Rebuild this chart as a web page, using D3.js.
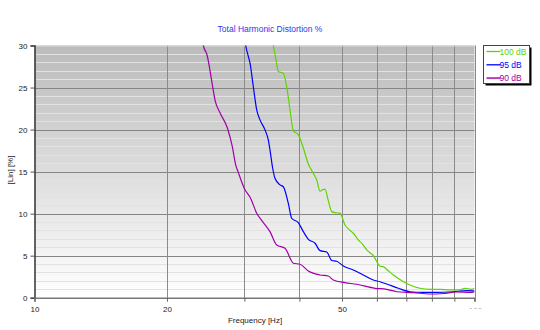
<!DOCTYPE html>
<html><head><meta charset="utf-8">
<script src="https://cdn.jsdelivr.net/npm/d3@7"></script>
<style>body{margin:0;background:#fff}svg{display:block}text{font-family:"Liberation Sans",Arial,sans-serif}</style>
</head><body>
<svg id="c" width="540" height="330"></svg>
<script>
const title = "Total Harmonic Distortion %";
const xLabel = "Frequency [Hz]";
const yLabel = "[Lin] [%]";
const seriesNames = ["100 dB", "95 dB", "90 dB"];
const seriesColors = ["#5fd400", "#0000ff", "#a000a8"];
const xGridValues = [10, 20, 30, 40, 50, 60, 70, 80, 90, 100];
const xTickLabels = [10, 20, 50, 100];
const yTickValues = [0, 5, 10, 15, 20, 25, 30];

const s100 = [[34.6,31],[34.89,30],[35.39,28.3],[35.82,26.9],[36.77,26.7],[37.43,25.08],[38.08,22.35],[38.75,19.85],[39.77,19.4],[40.83,17.8],[41.91,15.9],[43.02,14.8],[43.8,14.0],[44.56,12.67],[45.2,12.85],[45.74,12.92],[46.5,11.6],[47.38,10.24],[48.4,10.1],[49.47,10.05],[50.77,8.65],[51.9,8.1],[53.03,7.67],[54.44,6.87],[55.6,6.4],[56.89,5.68],[58.88,5.02],[60.97,3.77],[62.03,3.69],[63.7,3.2],[65.43,2.7],[68.94,1.9],[71.36,1.51],[75.18,1.12],[79.23,1.0],[83.49,1.0],[87.96,0.92],[92.7,0.92],[95.1,1.12],[98.5,1.0],[100,1.12]];
const s95 = [[30.0,31],[30.2,30],[30.62,28.7],[30.89,27.9],[31.43,25.08],[31.99,22.35],[32.55,21.15],[33.41,19.96],[33.99,18.77],[34.29,17.58],[34.78,15.4],[35.2,14.2],[36.14,13.42],[36.77,13.2],[37.74,11.24],[38.42,9.45],[39.77,8.93],[40.83,7.86],[41.91,6.95],[43.41,6.48],[44.56,5.6],[46.15,5.44],[47.38,4.43],[48.63,4.33],[50.34,3.77],[53.03,3.3],[55.88,2.7],[58.88,2.1],[60.97,1.9],[63.15,1.63],[67.14,1.12],[71.36,0.71],[76.5,0.64],[82.06,0.64],[89.5,0.71],[96.0,0.83],[100,0.8]];
const s90 = [[24.0,31],[24.19,30],[24.66,28.9],[25.41,25.08],[25.72,23.5],[26.4,22.0],[27.48,20.1],[28.15,18.0],[28.66,15.8],[29.01,15.0],[29.98,13.0],[31.0,11.8],[31.99,10.05],[33.0,9.05],[34.29,7.86],[35.52,6.27],[37.1,5.88],[38.75,4.1],[40.13,3.98],[41.91,3.18],[44.56,2.7],[46.53,2.58],[47.77,2.1],[50.77,1.79],[53.98,1.6],[59.4,1.12],[63.15,1.0],[66.6,0.71],[72.6,0.6],[79.2,0.44],[84.9,0.5],[91.1,0.68],[97.7,0.64],[100,0.7]];
const seriesData = [s100, s95, s90];

const svg = d3.select("#c");
const L = 34.5, R = 474.5, T = 45.5, B = 297.7;
const x = d3.scaleLog().domain([10, 100]).range([L, R]);
const y = d3.scaleLinear().domain([0, 30]).range([B, T]);

const defs = svg.append("defs");
const g = defs.append("linearGradient").attr("id", "bg").attr("x1", 0).attr("x2", 0).attr("y1", 0).attr("y2", 1);
g.append("stop").attr("offset", "0%").attr("stop-color", "#bbbbbb");
g.append("stop").attr("offset", "100%").attr("stop-color", "#ffffff");
defs.append("clipPath").attr("id", "plot").append("rect").attr("x", L).attr("y", T).attr("width", R - L).attr("height", B - T);
defs.append("clipPath").attr("id", "lab100").append("rect").attr("x", 460).attr("y", 300).attr("width", 30).attr("height", 8.5);

svg.append("rect").attr("x", L).attr("y", T).attr("width", R - L).attr("height", B - T).attr("fill", "url(#bg)");

// minor horizontal grid
svg.append("g").selectAll("line").data(d3.range(1, 30).filter(v => v % 5 !== 0)).join("line")
  .attr("x1", L).attr("x2", R).attr("y1", d => Math.round(y(d)) + 0.5).attr("y2", d => Math.round(y(d)) + 0.5)
  .attr("stroke", "#e2e2e2").attr("stroke-width", 1);
// major horizontal grid
svg.append("g").selectAll("line").data(yTickValues.filter(v => v > 0 && v < 30)).join("line")
  .attr("x1", L).attr("x2", R).attr("y1", d => Math.round(y(d)) + 0.5).attr("y2", d => Math.round(y(d)) + 0.5)
  .attr("stroke", "#858585").attr("stroke-width", 1);
// vertical grid
svg.append("g").selectAll("line").data(xGridValues.slice(1)).join("line")
  .attr("x1", d => Math.round(x(d)) + 0.5).attr("x2", d => Math.round(x(d)) + 0.5).attr("y1", T).attr("y2", B)
  .attr("stroke", "#8a8a8a").attr("stroke-width", 1);
svg.append("line").attr("x1", L).attr("x2", R).attr("y1", T + 0.5).attr("y2", T + 0.5).attr("stroke", "#d8d8d8");

// axes
const yAxis = d3.axisLeft(y).tickValues(yTickValues).tickSize(4).tickPadding(3);
const yg = svg.append("g").attr("transform", `translate(${L},0)`).call(yAxis);
yg.select(".domain").attr("stroke", "#333").attr("stroke-width", 1.5);
yg.selectAll(".tick line").attr("stroke", "#555");
yg.selectAll("text").attr("font-size", 8).attr("fill", "#222").attr("font-family", "Liberation Sans, Arial, sans-serif");

const xAxis = d3.axisBottom(x).tickValues(xGridValues).tickSize(4).tickPadding(5)
  .tickFormat(d => xTickLabels.includes(d) ? d : "");
const xg = svg.append("g").attr("transform", `translate(0,${B})`).call(xAxis);
xg.select(".domain").attr("stroke", "#777").attr("stroke-width", 1.5);
xg.selectAll(".tick line").attr("stroke", "#666");
xg.selectAll("text").attr("font-size", 8).attr("fill", "#222").attr("font-family", "Liberation Sans, Arial, sans-serif");
// the 100 label is mostly hidden in the reference
xg.selectAll(".tick").filter(d => d === 100).select("text").remove();
svg.append("text").attr("x", x(100) + 1).attr("y", B + 15).attr("text-anchor", "middle").attr("font-size", 8)
  .attr("fill", "#444").attr("clip-path", "url(#lab100)").text(xTickLabels[3]);

// lines
const line = d3.line().x(d => x(d[0])).y(d => y(d[1])).curve(d3.curveMonotoneX);
const lg = svg.append("g").attr("clip-path", "url(#plot)");
seriesData.forEach((s, i) => {
  lg.append("path").datum(s).attr("d", line).attr("fill", "none")
    .attr("stroke", seriesColors[i]).attr("stroke-width", 1.2).attr("stroke-linejoin", "round");
});

// title and labels
svg.append("text").attr("x", 270).attr("y", 32).attr("text-anchor", "middle").attr("font-size", 8.5)
  .attr("fill", "#3333ee").text(title);
svg.append("text").attr("x", 255).attr("y", 323).attr("text-anchor", "middle").attr("font-size", 8)
  .attr("fill", "#222").text(xLabel);
svg.append("text").attr("transform", "translate(13,170) rotate(-90)").attr("text-anchor", "middle")
  .attr("font-size", 8).attr("fill", "#222").text(yLabel);

// legend
const lx = 483.5, ly = 45.5, lw = 46, lh = 38;
svg.append("rect").attr("x", lx + 2).attr("y", ly + 2).attr("width", lw).attr("height", lh).attr("fill", "#000");
svg.append("rect").attr("x", lx).attr("y", ly).attr("width", lw).attr("height", lh).attr("fill", "#fff")
  .attr("stroke", "#444").attr("stroke-width", 1);
seriesNames.forEach((n, i) => {
  const yy = 51.5 + i * 13.3;
  svg.append("line").attr("x1", lx + 3).attr("x2", lx + 17).attr("y1", yy).attr("y2", yy)
    .attr("stroke", seriesColors[i]).attr("stroke-width", i === 2 ? 2 : 1.3).attr("opacity", i === 2 ? 0.75 : 1);
  svg.append("text").attr("x", lx + 16).attr("y", yy + 3).attr("font-size", 8.5)
    .attr("fill", seriesColors[i]).text(n);
});
</script>
</body></html>
